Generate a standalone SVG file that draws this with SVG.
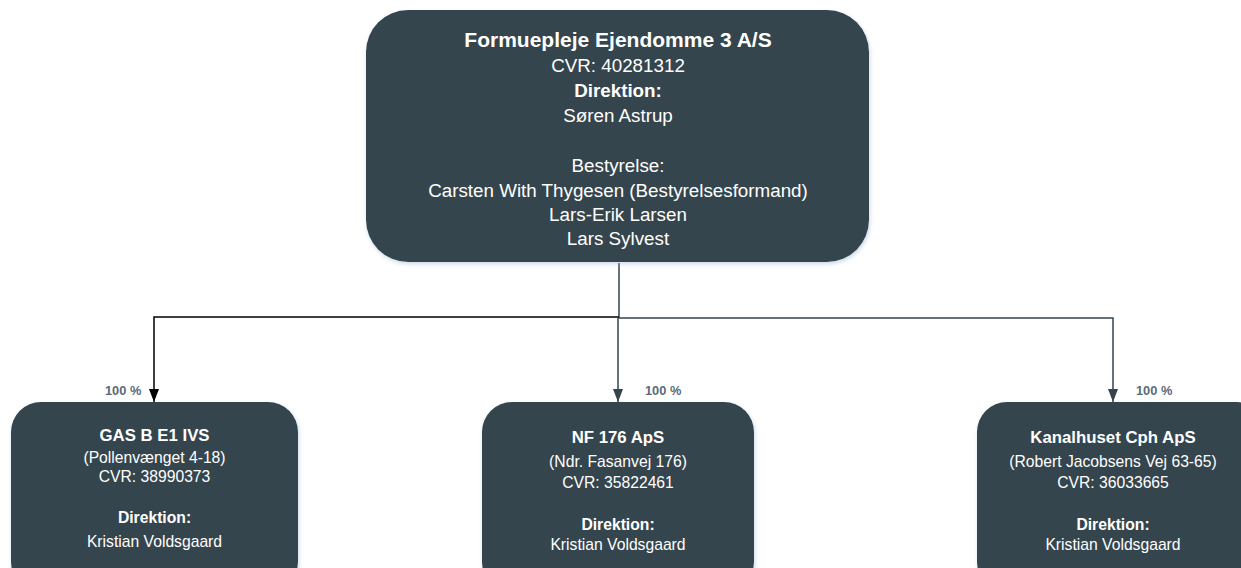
<svg xmlns="http://www.w3.org/2000/svg" width="1241" height="568" viewBox="0 0 1241 568">
  <style>
    .box { fill: #35444D; filter: url(#glow); }
    text { font-family: "Liberation Sans", Arial, sans-serif; fill: #FFFFFF; text-anchor: middle; }
    .t1 { font-size: 21px; font-weight: bold; }
    .r1 { font-size: 18.8px; }
    .b1 { font-size: 18.8px; font-weight: bold; }
    .t2 { font-size: 16.8px; font-weight: bold; }
    .r2 { font-size: 15.7px; }
    .b2 { font-size: 15.7px; font-weight: bold; }
    .pct { font-size: 12.8px; font-weight: bold; fill: #5B6B79; text-anchor: start; }
    .ln { fill: none; stroke-width: 1.5; }
  </style>
  <defs>
    <filter id="glow" x="-10%" y="-10%" width="120%" height="130%">
      <feDropShadow dx="1" dy="2" stdDeviation="2" flood-color="#9FBCD6" flood-opacity="0.55"/>
    </filter>
    <marker id="ahBlack" viewBox="0 0 13 10" refX="13" refY="5" markerWidth="13" markerHeight="10" markerUnits="userSpaceOnUse" orient="auto">
      <path d="M0,0 L13,5 L0,10 Z" fill="#000000"/>
    </marker>
    <marker id="ahSlate" viewBox="0 0 13 10" refX="13" refY="5" markerWidth="13" markerHeight="10" markerUnits="userSpaceOnUse" orient="auto">
      <path d="M0,0 L13,5 L0,10 Z" fill="#35444D"/>
    </marker>
  </defs>

  <g id="connectors">
    <path class="ln" stroke="#35444D" d="M619,263 L619,318"/>
    <path class="ln" stroke="#000000" d="M619,317 L154,317 L154,402" marker-end="url(#ahBlack)"/>
    <path class="ln" stroke="#35444D" d="M619,318 L1113,318 L1113,402" marker-end="url(#ahSlate)"/>
    <path class="ln" stroke="#35444D" d="M618,318 L618,402" marker-end="url(#ahSlate)"/>
    <text class="pct" x="105" y="395">100 %</text>
    <text class="pct" x="645" y="395">100 %</text>
    <text class="pct" x="1136" y="395">100 %</text>
  </g>

  <g id="parent">
    <rect class="box" x="366" y="10" width="503" height="252" rx="42" ry="42"/>
    <text class="t1" x="618" y="47">Formuepleje Ejendomme 3 A/S</text>
    <text class="r1" x="618" y="72">CVR: 40281312</text>
    <text class="b1" x="618" y="97">Direktion:</text>
    <text class="r1" x="618" y="122">Søren Astrup</text>
    <text class="r1" x="618" y="172">Bestyrelse:</text>
    <text class="r1" x="618" y="197">Carsten With Thygesen (Bestyrelsesformand)</text>
    <text class="r1" x="618" y="221">Lars-Erik Larsen</text>
    <text class="r1" x="618" y="245">Lars Sylvest</text>
  </g>

  <g id="gas">
    <rect class="box" x="11" y="402" width="287" height="190" rx="30" ry="30"/>
    <text class="t2" x="154.5" y="441">GAS B E1 IVS</text>
    <text class="r2" x="154.5" y="463">(Pollenvænget 4-18)</text>
    <text class="r2" x="154.5" y="482">CVR: 38990373</text>
    <text class="b2" x="154.5" y="523">Direktion:</text>
    <text class="r2" x="154.5" y="547">Kristian Voldsgaard</text>
  </g>

  <g id="nf176">
    <rect class="box" x="482" y="402" width="272" height="190" rx="30" ry="30"/>
    <text class="t2" x="618" y="443">NF 176 ApS</text>
    <text class="r2" x="618" y="467">(Ndr. Fasanvej 176)</text>
    <text class="r2" x="618" y="488">CVR: 35822461</text>
    <text class="b2" x="618" y="530">Direktion:</text>
    <text class="r2" x="618" y="550">Kristian Voldsgaard</text>
  </g>

  <g id="kanalhuset">
    <rect class="box" x="977" y="402" width="290" height="190" rx="30" ry="30"/>
    <text class="t2" x="1113" y="443">Kanalhuset Cph ApS</text>
    <text class="r2" x="1113" y="467">(Robert Jacobsens Vej 63-65)</text>
    <text class="r2" x="1113" y="488">CVR: 36033665</text>
    <text class="b2" x="1113" y="530">Direktion:</text>
    <text class="r2" x="1113" y="550">Kristian Voldsgaard</text>
  </g>
</svg>
